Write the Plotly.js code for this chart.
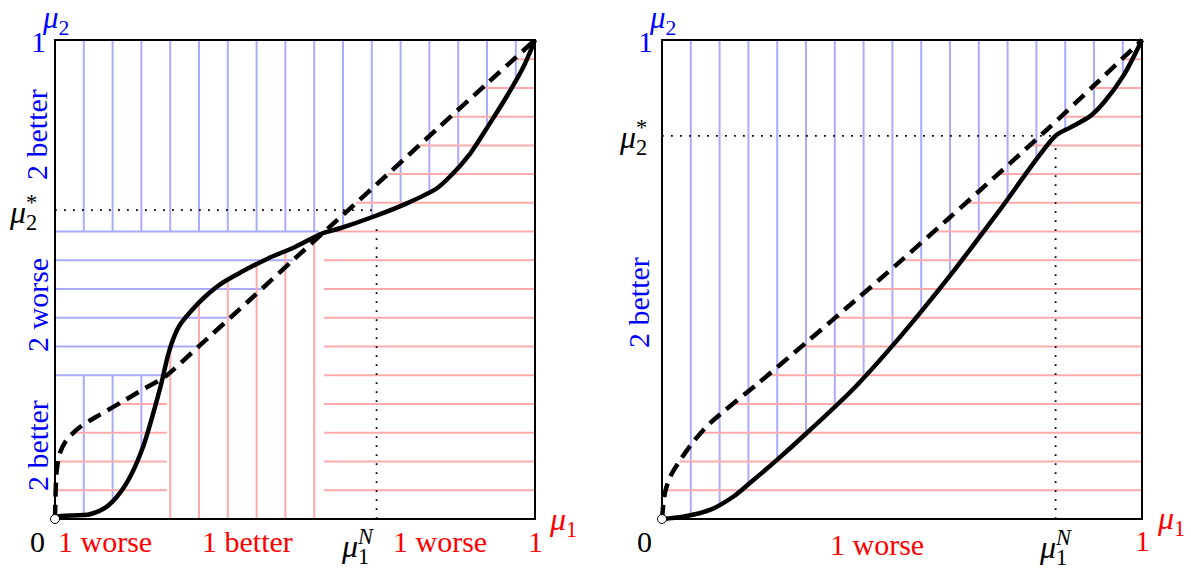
<!DOCTYPE html>
<html>
<head>
<meta charset="utf-8">
<script src="https://cdn.plot.ly/plotly-3.0.1.min.js"></script>
<style>body{margin:0;background:#fff}#plot{width:1191px;height:571px}</style>
</head>
<body>
<div id="plot"></div>
<script>
// grid levels used for both mu1 (vertical lines) and mu2 (horizontal lines)
var grid = [0.06, 0.12, 0.18, 0.24, 0.30, 0.36, 0.42, 0.48, 0.54, 0.60, 0.66, 0.72, 0.78, 0.84, 0.90, 0.96];

// left panel, solid curve
var leftSolidX = [0, 0.0035, 0.073, 0.108, 0.135, 0.16, 0.185, 0.205, 0.222, 0.235, 0.246, 0.26, 0.285, 0.3125, 0.347, 0.389, 0.444, 0.50, 0.556, 0.594, 0.663, 0.733, 0.795, 0.823, 0.865, 0.906, 0.941, 0.976, 1];
var leftSolidY = [0, 0.005, 0.010, 0.026, 0.054, 0.095, 0.155, 0.222, 0.285, 0.340, 0.375, 0.405, 0.436, 0.464, 0.492, 0.516, 0.544, 0.568, 0.596, 0.607, 0.631, 0.659, 0.690, 0.715, 0.763, 0.826, 0.882, 0.944, 1];
// left panel, dashed curve
var leftDashX = [0, 0.0035, 0.010, 0.024, 0.052, 0.094, 0.142, 0.184, 0.229, 0.30, 0.40, 0.50, 0.60, 0.70, 0.80, 0.90, 1];
var leftDashY = [0, 0.100, 0.137, 0.165, 0.192, 0.218, 0.246, 0.271, 0.297, 0.361, 0.452, 0.544, 0.635, 0.726, 0.818, 0.909, 1];
// left panel region borders (where the curves cross) and reference levels
var leftLowCross = 0.233;
var leftHighCross = 0.55;
var leftRightStart = 0.56;
var leftBandLow = 0.30;
var leftBandHigh = 0.60;
var leftStar = 0.645;
var leftNash = 0.67;

// right panel, solid curve
var rightSolidX = [0, 0.044, 0.10, 0.149, 0.183, 0.239, 0.30, 0.40, 0.50, 0.60, 0.70, 0.82, 0.85, 0.892, 0.92, 0.961, 1];
var rightSolidY = [0, 0.005, 0.019, 0.047, 0.075, 0.123, 0.178, 0.273, 0.385, 0.508, 0.640, 0.80, 0.817, 0.841, 0.869, 0.925, 1];
// right panel, dashed curve
var rightDashX = [0, 0.006, 0.017, 0.038, 0.066, 0.10, 0.20, 0.30, 0.40, 0.50, 0.60, 0.70, 0.80, 0.90, 1];
var rightDashY = [0, 0.054, 0.088, 0.123, 0.162, 0.20, 0.283, 0.368, 0.454, 0.541, 0.630, 0.720, 0.811, 0.905, 1];
var rightStar = 0.80;
var rightNash = 0.82;

var blue = 'rgb(170,170,255)';
var red = 'rgb(255,170,170)';

function interp(xs, ys, v) {
  for (var i = 1; i < xs.length; i++) {
    if (v <= xs[i]) {
      var t = (v - xs[i - 1]) / (xs[i] - xs[i - 1]);
      return ys[i - 1] + t * (ys[i] - ys[i - 1]);
    }
  }
  return ys[ys.length - 1];
}
function segs() { return {x: [], y: []}; }
function addV(s, x, y0, y1) { s.x.push(x, x, null); s.y.push(y0, y1, null); }
function addH(s, y, x0, x1) { s.x.push(x0, x1, null); s.y.push(y, y, null); }
function near(a, b) { return Math.abs(a - b) < 1e-6; }

// left panel grid pieces
var lBlue = segs(), lRed = segs();
grid.forEach(function (g) {
  // vertical lines at mu1 = g
  if (g < leftLowCross) {
    addV(lBlue, g, interp(leftSolidX, leftSolidY, g), leftBandLow);
    addV(lBlue, g, leftBandHigh, 1);
  } else if (g < leftRightStart) {
    addV(lBlue, g, leftBandHigh, 1);
    addV(lRed, g, 0, interp(leftSolidX, leftSolidY, g));
  } else addV(lBlue, g, interp(leftSolidX, leftSolidY, g), 1);
  // horizontal lines at mu2 = g
  if (g < leftBandLow - 1e-6) addH(lRed, g, interp(leftDashY, leftDashX, g), leftLowCross);
  if (near(g, leftBandLow)) addH(lBlue, g, 0, leftLowCross);
  if (g > leftBandLow + 1e-6 && g < leftBandHigh - 1e-6) addH(lBlue, g, 0, interp(leftDashY, leftDashX, g));
  if (near(g, leftBandHigh)) addH(lBlue, g, 0, leftHighCross);
  if (g < leftBandHigh + 1e-6) addH(lRed, g, leftRightStart, 1);
  else addH(lRed, g, interp(leftDashY, leftDashX, g), 1);
});

// right panel grid pieces
var rBlue = segs(), rRed = segs();
grid.forEach(function (g) {
  addV(rBlue, g, interp(rightSolidX, rightSolidY, g), 1);
  addH(rRed, g, interp(rightDashY, rightDashX, g), 1);
});

function line(s, color, width, dash, xa, ya, shape) {
  return {x: s.x, y: s.y, xaxis: xa, yaxis: ya, mode: 'lines', hoverinfo: 'skip',
    line: {color: color, width: width, dash: dash || 'solid', shape: shape || 'linear', smoothing: 0.8},
    connectgaps: false, showlegend: false};
}

var box = {x: [0, 1, 1, 0, 0], y: [0, 0, 1, 1, 0]};
var data = [];
[['x', 'y', lBlue, lRed, leftSolidX, leftSolidY, leftDashX, leftDashY, leftStar, leftNash, 0.66, 0.614],
 ['x2', 'y2', rBlue, rRed, rightSolidX, rightSolidY, rightDashX, rightDashY, rightStar, rightNash, 0.819, 0.78]].forEach(function (p) {
  var xa = p[0], ya = p[1];
  data.push(line(p[2], blue, 2, null, xa, ya));
  data.push(line(p[3], red, 2, null, xa, ya));
  var dots = segs();
  addH(dots, p[8], 0, p[10]);
  addV(dots, p[9], 0, p[11]);
  data.push(line(dots, 'black', 1.8, '1.8px,7.2px', xa, ya));
  data.push(line(box, 'black', 2, null, xa, ya));
  data.push(line({x: p[4], y: p[5]}, 'black', 4.5, null, xa, ya, 'spline'));
  data.push(line({x: p[6], y: p[7]}, 'black', 4.5, '14px,8px', xa, ya, 'spline'));
  data.push({x: [0], y: [0], xaxis: xa, yaxis: ya, mode: 'markers', hoverinfo: 'skip', showlegend: false, cliponaxis: false,
    marker: {size: 9, color: 'white', line: {color: 'black', width: 1}}});
});

var W = 1191, H = 571;
var serif = 'Liberation Serif, Times New Roman, serif';
function lab(text, px, py, color, size, angle) {
  return {text: text, x: px / W, y: 1 - py / H, xref: 'paper', yref: 'paper', showarrow: false,
    xanchor: 'center', yanchor: 'middle', textangle: angle || 0,
    font: {family: serif, size: size || 30, color: color}};
}
// mu with a subscript and a superscript stacked over it
function stack(sub, sup) {
  return '<i>μ</i><sub><span style="letter-spacing:-0.5em">' + sub + '</span></sub><sup>' + sup + '</sup>';
}
var annotations = [
  // left panel
  lab('<i>μ</i><sub>2</sub>', 55, 20, 'blue', 31),
  lab('1', 38, 41, 'blue'),
  lab('2 better', 37, 135, 'blue', 30, -90),
  lab(stack('2', '*'), 23, 210, 'black', 32),
  lab('2 worse', 37, 305, 'blue', 30, -90),
  lab('2 better', 37, 446, 'blue', 30, -90),
  lab('0', 37, 541, 'black'),
  lab('1 worse', 105, 541, 'red'),
  lab('1 better', 248, 541, 'red'),
  lab(stack('1', '<i>N</i>'), 357, 544, 'black', 32),
  lab('1 worse', 440, 541, 'red'),
  lab('1', 535, 541, 'red'),
  lab('<i>μ</i><sub>1</sub>', 563, 521, 'red', 32),
  // right panel
  lab('<i>μ</i><sub>2</sub>', 662, 20, 'blue', 31),
  lab('1', 645, 41, 'blue'),
  lab(stack('2', '*'), 633, 135, 'black', 32),
  lab('2 better', 638, 303, 'blue', 30, -90),
  lab('0', 644, 541, 'black'),
  lab('1 worse', 877, 544, 'red'),
  lab(stack('1', '<i>N</i>'), 1055, 545, 'black', 32),
  lab('1', 1142, 540, 'red'),
  lab('<i>μ</i><sub>1</sub>', 1171, 520, 'red', 32)
];

// axes: 0..1 maps to the square panels, a little padding so edge lines are not clipped
function ax(p0, p1, total, flip) {
  var pad = 0.02 * (p1 - p0);
  var a = (p0 - pad) / total, b = (p1 + pad) / total;
  if (flip) { var t = a; a = 1 - (p1 + pad) / total; b = 1 - t; }
  return {domain: [a, b], range: [-0.02, 1.02], visible: false, fixedrange: true};
}

var layout = {
  width: W, height: H, autosize: false,
  margin: {l: 0, r: 0, t: 0, b: 0},
  paper_bgcolor: 'white', plot_bgcolor: 'white',
  xaxis: ax(55, 535, W),
  yaxis: ax(40, 519, H, true),
  xaxis2: ax(662, 1142, W),
  yaxis2: ax(40, 519, H, true),
  annotations: annotations,
  showlegend: false
};

Plotly.newPlot('plot', data, layout, {displayModeBar: false, staticPlot: true});
</script>
</body>
</html>
